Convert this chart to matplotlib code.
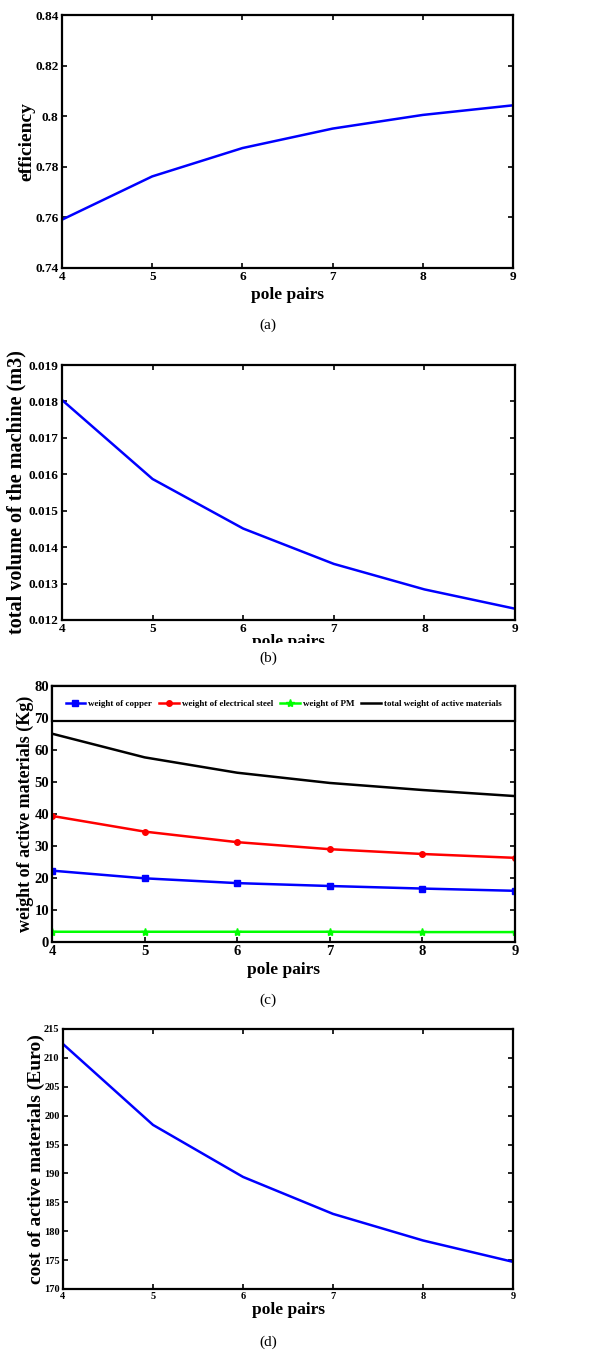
import matplotlib
matplotlib.use('Agg')
import matplotlib.pyplot as plt
from matplotlib.patches import Rectangle

# Figure size in pixels (dpi 100)
W, H = 616, 1353

# Data
pole_pairs = [4, 5, 6, 7, 8, 9]
efficiency = [0.7591, 0.7762, 0.7874, 0.7951, 0.8005, 0.8043]
volume = [0.01804, 0.01587, 0.01451, 0.01354, 0.01284, 0.01231]
w_copper = [22.3, 19.9, 18.4, 17.5, 16.7, 16.0]
w_steel = [39.4, 34.5, 31.2, 29.0, 27.5, 26.3]
w_pm = [3.2, 3.2, 3.2, 3.2, 3.1, 3.1]
w_total = [65.1, 57.7, 52.9, 49.7, 47.5, 45.6]
cost = [212.4, 198.4, 189.4, 183.0, 178.4, 174.7]

eff_ticks = [0.74, 0.76, 0.78, 0.80, 0.82, 0.84]
eff_labels = ['0.74', '0.76', '0.78', '0.8', '0.82', '0.84']
vol_ticks = [0.012, 0.013, 0.014, 0.015, 0.016, 0.017, 0.018, 0.019]
vol_labels = ['0.012', '0.013', '0.014', '0.015', '0.016', '0.017', '0.018', '0.019']
wt_ticks = [0, 10, 20, 30, 40, 50, 60, 70, 80]
cost_ticks = [170, 175, 180, 185, 190, 195, 200, 205, 210, 215]

plt.rcParams['font.family'] = ['Liberation Serif', 'DejaVu Serif']
plt.rcParams['font.weight'] = 'bold'

fig = plt.figure(figsize=(W / 100, H / 100), dpi=100)


def add_axes_px(left, right, top, bottom):
    return fig.add_axes([left / W, 1 - bottom / H, (right - left) / W, (bottom - top) / H])


def style_axes(ax, tick_size, pad=2.5):
    ax.set_xlim(4, 9)
    ax.set_xticks(pole_pairs)
    ax.tick_params(direction='in', top=True, right=True, length=3.5, width=1.2,
                   labelsize=tick_size, pad=pad)
    for lab in ax.get_xticklabels() + ax.get_yticklabels():
        lab.set_fontweight('bold')
    for sp in ax.spines.values():
        sp.set_linewidth(1.6)


def place_labels(ax, box, xlabel_y, ylabel_x, ylabel, ysize):
    left, right, top, bottom = box
    ax.set_xlabel('pole pairs', fontsize=12.5, fontweight='bold', va='center')
    ax.xaxis.set_label_coords(0.5, (bottom - xlabel_y) / (bottom - top))
    ax.set_ylabel(ylabel, fontsize=ysize, fontweight='bold', va='center')
    ax.yaxis.set_label_coords((ylabel_x - left) / (right - left), 0.5)


# (a) efficiency
box_a = (62, 513, 15, 268)
ax1 = add_axes_px(*box_a)
ax1.plot(pole_pairs, efficiency, color='#0000ff', lw=1.8)
ax1.set_ylim(0.74, 0.84)
ax1.set_yticks(eff_ticks)
ax1.set_yticklabels(eff_labels)
style_axes(ax1, 9.5)
place_labels(ax1, box_a, 295, 27, 'efficiency', 14)

# (b) total volume
box_b = (62, 515, 365, 620)
ax2 = add_axes_px(*box_b)
ax2.plot(pole_pairs, volume, color='#0000ff', lw=1.8)
ax2.set_ylim(0.012, 0.019)
ax2.set_yticks(vol_ticks)
ax2.set_yticklabels(vol_labels)
style_axes(ax2, 9.5)
place_labels(ax2, box_b, 642, 16, 'total volume of the machine (m3)', 14.5)

# (c) weights
box_c = (52, 515, 686, 942)
ax3 = add_axes_px(*box_c)
ax3.plot(pole_pairs, w_copper, color='#0000ff', lw=1.8, marker='s', ms=4,
         label='weight of copper')
ax3.plot(pole_pairs, w_steel, color='#ff0000', lw=1.8, marker='o', ms=4,
         label='weight of electrical steel')
ax3.plot(pole_pairs, w_pm, color='#00ff00', lw=1.8, marker='*', ms=6,
         label='weight of PM')
ax3.plot(pole_pairs, w_total, color='black', lw=1.8,
         label='total weight of active materials')
ax3.set_ylim(0, 80)
ax3.set_yticks(wt_ticks)
style_axes(ax3, 10.5, pad=2)
place_labels(ax3, box_c, 970, 25, 'weight of active materials (Kg)', 13)
leg = ax3.legend(loc='upper left', bbox_to_anchor=(0, 0, 1, 1), mode='expand',
                 ncol=4, fontsize=6.5, borderaxespad=0, borderpad=1.5,
                 handlelength=2.2, handletextpad=0.3, columnspacing=0.8,
                 fancybox=False, edgecolor='black', framealpha=1)
leg.get_frame().set_linewidth(1.6)
for t in leg.get_texts():
    t.set_fontweight('bold')

# (d) cost
box_d = (63, 513, 1029, 1289)
ax4 = add_axes_px(*box_d)
ax4.plot(pole_pairs, cost, color='#0000ff', lw=1.8)
ax4.set_ylim(170, 215)
ax4.set_yticks(cost_ticks)
style_axes(ax4, 7.5)
place_labels(ax4, box_d, 1310, 36, 'cost of active materials (Euro)', 14)

# the caption of (b) covers the lower half of its x label
fig.patches.append(Rectangle((230 / W, 1 - 654 / H), 120 / W, 11.5 / H,
                             transform=fig.transFigure, facecolor='white',
                             edgecolor='none', zorder=2))

# captions
for cap, ypix in [('(a)', 325), ('(b)', 658), ('(c)', 1000), ('(d)', 1342)]:
    fig.text(268 / W, 1 - ypix / H, cap, ha='center', va='center',
             fontsize=11, fontweight='normal', zorder=3)

fig.savefig('out.png', dpi=100)
